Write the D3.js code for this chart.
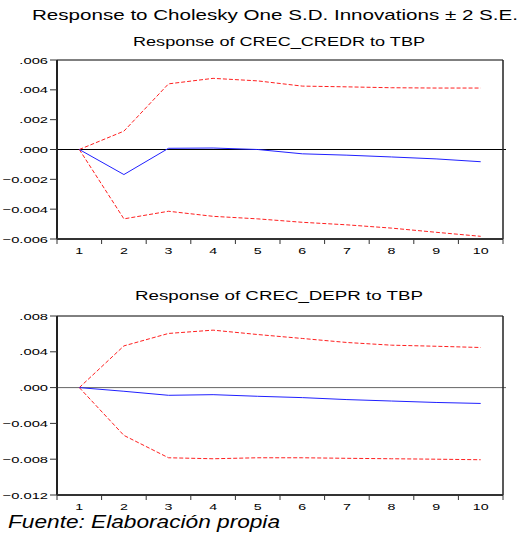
<!DOCTYPE html>
<html><head><meta charset="utf-8">
<script src="https://cdn.jsdelivr.net/npm/d3@7/dist/d3.min.js"></script>
<style>body{margin:0;background:#fff}svg{display:block}text{font-family:"Liberation Sans",Arial,sans-serif;fill:#000}</style>
</head><body><svg id="c" width="530" height="537"></svg>
<script>
const periods = [1,2,3,4,5,6,7,8,9,10];
const credrResp  = [0, -0.00168, 0.00008, 0.0001, 0.0, -0.00029, -0.00038, -0.0005, -0.00063, -0.00082];
const credrUpper = [0, 0.00123, 0.0044, 0.00477, 0.0046, 0.00425, 0.0042, 0.00414, 0.00412, 0.00412];
const credrLower = [0, -0.00465, -0.00414, -0.00448, -0.00465, -0.00488, -0.00505, -0.00527, -0.00555, -0.00582];
const deprResp  = [0, -0.00041, -0.00086, -0.00079, -0.00097, -0.00112, -0.00134, -0.0015, -0.00166, -0.00177];
const deprUpper = [0, 0.00466, 0.00605, 0.00642, 0.00593, 0.00549, 0.00504, 0.00474, 0.00462, 0.00448];
const deprLower = [0, -0.00534, -0.00784, -0.00795, -0.00784, -0.00784, -0.0079, -0.00795, -0.008, -0.00806];
const credrTicks = [0.006, 0.004, 0.002, 0, -0.002, -0.004, -0.006];
const deprTicks = [0.008, 0.004, 0, -0.004, -0.008, -0.012];

const svg = d3.select("#c");
const fmt = v => { if (v === 0) return ".000"; const s = d3.format(".3f")(v); return s.replace(/^(-?)0\./, "$1."); };

svg.append("text").attr("x", 32).attr("y", 20).attr("font-size", 15)
  .attr("textLength", 486).attr("lengthAdjust", "spacingAndGlyphs")
  .text("Response to Cholesky One S.D. Innovations \u00b1 2 S.E.");

function panel(top, bottom, dom, ticks, resp, up, lo, title, titleY, titleW, zeroColor) {
  const L = 57, R = 503;
  const x = d3.scaleBand().domain(periods).range([L, R]);
  const y = d3.scaleLinear().domain(dom).range([bottom, top]);
  const cx = d => x(d) + x.bandwidth() / 2;
  const g = svg.append("g");
  g.append("text").attr("x", 279).attr("y", titleY).attr("font-size", 12.5)
    .attr("text-anchor", "middle").attr("textLength", titleW).attr("lengthAdjust", "spacingAndGlyphs").text(title);
  // zero line
  g.append("line").attr("x1", L).attr("x2", R + 3).attr("y1", y(0)).attr("y2", y(0))
    .attr("stroke", zeroColor).attr("stroke-width", 1);
  // frame
  g.append("line").attr("x1", L).attr("x2", R).attr("y1", top).attr("y2", top).attr("stroke", "#000").attr("stroke-width", 1);
  g.append("line").attr("x1", R).attr("x2", R).attr("y1", top).attr("y2", bottom).attr("stroke", "#222").attr("stroke-width", 1.5);
  g.append("line").attr("x1", L).attr("x2", L).attr("y1", top).attr("y2", bottom).attr("stroke", "#222").attr("stroke-width", 2);
  g.append("line").attr("x1", L).attr("x2", R).attr("y1", bottom).attr("y2", bottom).attr("stroke", "#333").attr("stroke-width", 2);
  // y ticks
  ticks.forEach(t => {
    g.append("line").attr("x1", L - 7).attr("x2", L).attr("y1", y(t)).attr("y2", y(t)).attr("stroke", "#333");
    g.append("text").attr("transform", `translate(${L - 9},${y(t) + 3.5}) scale(1.55,1)`)
      .attr("text-anchor", "end").attr("font-size", 9.5).text(fmt(t));
  });
  // x ticks at band boundaries
  periods.concat([11]).forEach((p, i) => {
    const xx = L + i * x.bandwidth();
    g.append("line").attr("x1", xx).attr("x2", xx).attr("y1", bottom).attr("y2", bottom + 5).attr("stroke", "#333");
  });
  periods.forEach(p => {
    g.append("text").attr("transform", `translate(${cx(p)},${bottom + 15}) scale(1.5,1)`)
      .attr("text-anchor", "middle").attr("font-size", 9.5).text(p);
  });
  const line = d3.line().x((d, i) => cx(periods[i])).y(d => y(d));
  g.append("path").attr("d", line(up)).attr("fill", "none").attr("stroke", "#ff2020").attr("stroke-width", 1).attr("stroke-dasharray", "4,2");
  g.append("path").attr("d", line(lo)).attr("fill", "none").attr("stroke", "#ff2020").attr("stroke-width", 1).attr("stroke-dasharray", "4,2");
  g.append("path").attr("d", line(resp)).attr("fill", "none").attr("stroke", "#2020ff").attr("stroke-width", 1);
}

panel(60, 239, [-0.006, 0.006], credrTicks, credrResp, credrUpper, credrLower, "Response of CREC_CREDR to TBP", 46, 292, "#000");
panel(316, 495, [-0.012, 0.008], deprTicks, deprResp, deprUpper, deprLower, "Response of CREC_DEPR to TBP", 300, 288, "#666");

svg.append("text").attr("x", 8).attr("y", 528).attr("font-size", 18).attr("font-style", "italic")
  .attr("textLength", 272).attr("lengthAdjust", "spacingAndGlyphs").text("Fuente: Elaboración propia");
</script></body></html>
